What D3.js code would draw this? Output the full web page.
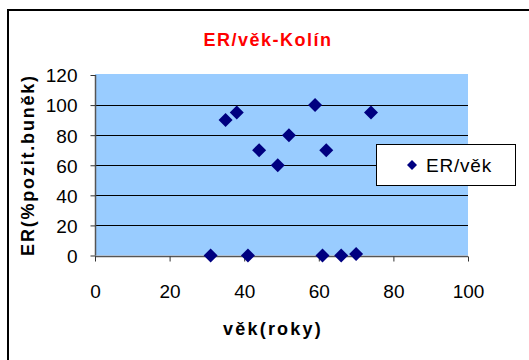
<!DOCTYPE html>
<html>
<head>
<meta charset="utf-8">
<script src="https://cdn.jsdelivr.net/npm/d3@7"></script>
<style>
  html, body { margin: 0; padding: 0; background: #fff; }
  svg { display: block; }
  text { font-family: Arial, "Liberation Sans", sans-serif; }
</style>
</head>
<body>
<svg id="chart" width="529" height="360"></svg>
<script>
// Age (years) and ER positivity (% positive cells)
const age = [31, 35, 38, 41, 44, 49, 52, 59, 61, 62, 66, 70, 74];
const er  = [0, 90, 95, 0, 70, 60, 80, 100, 0, 70, 0, 1, 95];
const xTicks = [0, 20, 40, 60, 80, 100];
const yTicks = [0, 20, 40, 60, 80, 100, 120];
const title = "ER/věk-Kolín";
const xTitle = "věk(roky)";
const yTitle = "ER(%pozit.buněk)";
const seriesName = "ER/věk";

const svg = d3.select("#chart");

// outer chart frame (runs past the right and bottom edges)
svg.append("rect")
  .attr("x", 8).attr("y", 10)
  .attr("width", 540).attr("height", 370)
  .attr("fill", "#fff").attr("stroke", "#000").attr("stroke-width", 2);

const plot = { left: 95, right: 468, top: 75, bottom: 255.5 };

const x = d3.scaleLinear().domain([0, 100]).range([plot.left, plot.right]);
const y = d3.scaleLinear().domain([0, 120]).range([plot.bottom, plot.top]);

// plot area background
svg.append("rect")
  .attr("x", plot.left).attr("y", plot.top - 1)
  .attr("width", plot.right - plot.left).attr("height", plot.bottom - plot.top + 1)
  .attr("fill", "#99ccff");

// horizontal gridlines
svg.append("g")
  .selectAll("line")
  .data(yTicks.filter(v => v > 0 && v < 120))
  .join("line")
  .attr("x1", plot.left).attr("x2", plot.right)
  .attr("y1", d => Math.round(y(d)) + 0.5).attr("y2", d => Math.round(y(d)) + 0.5)
  .attr("stroke", "#000").attr("stroke-width", 1);

// axes
const xAxis = svg.append("g")
  .attr("transform", `translate(0,${Math.round(plot.bottom) + 0.5})`)
  .call(d3.axisBottom(x).tickValues(xTicks).tickSize(5).tickPadding(23));
const yAxis = svg.append("g")
  .attr("transform", `translate(${plot.left + 0.5},0)`)
  .call(d3.axisLeft(y).tickValues(yTicks).tickSize(5).tickPadding(13));

[xAxis, yAxis].forEach(ax => {
  ax.select(".domain").attr("stroke", "#555").attr("stroke-width", 1.5);
  ax.selectAll(".tick line").attr("stroke", "#333");
  ax.selectAll(".tick text")
    .attr("font-size", 19)
    .attr("font-family", "Arial, 'Liberation Sans', sans-serif")
    .attr("fill", "#000");
});
xAxis.select(".domain").attr("d", `M${plot.left},0H${plot.right}`);
yAxis.select(".domain").attr("d", `M0,${plot.top}V${plot.bottom}`);
yAxis.selectAll(".tick text").attr("dy", "0.36em");

// data points as diamonds
const diamond = d3.symbol().type(d3.symbolSquare).size(98);
svg.append("g")
  .selectAll("path")
  .data(age.map((a, i) => ({ a, v: er[i] })))
  .join("path")
  .attr("d", diamond)
  .attr("transform", d => `translate(${x(d.a)},${y(d.v)}) rotate(45)`)
  .attr("fill", "#000080");

// title
svg.append("text")
  .attr("x", 268).attr("y", 46)
  .attr("text-anchor", "middle")
  .attr("font-size", 18).attr("font-weight", "bold")
  .attr("letter-spacing", 1.5)
  .attr("fill", "#ff0000")
  .text(title);

// axis titles
svg.append("text")
  .attr("x", 273).attr("y", 335)
  .attr("text-anchor", "middle")
  .attr("font-size", 18).attr("font-weight", "bold")
  .attr("letter-spacing", 2.2)
  .text(xTitle);

svg.append("text")
  .attr("transform", "translate(34,165) rotate(-90)")
  .attr("text-anchor", "middle")
  .attr("font-size", 18).attr("font-weight", "bold")
  .attr("letter-spacing", 1.8)
  .text(yTitle);

// legend
const lg = svg.append("g");
lg.append("rect")
  .attr("x", 376.5).attr("y", 144.5)
  .attr("width", 139).attr("height", 41)
  .attr("fill", "#fff").attr("stroke", "#000").attr("stroke-width", 1);
lg.append("path")
  .attr("d", d3.symbol().type(d3.symbolSquare).size(50))
  .attr("transform", "translate(412,165) rotate(45)")
  .attr("fill", "#000080");
lg.append("text")
  .attr("x", 426).attr("y", 172)
  .attr("font-size", 19)
  .attr("letter-spacing", 0.8)
  .text(seriesName);
</script>
</body>
</html>
